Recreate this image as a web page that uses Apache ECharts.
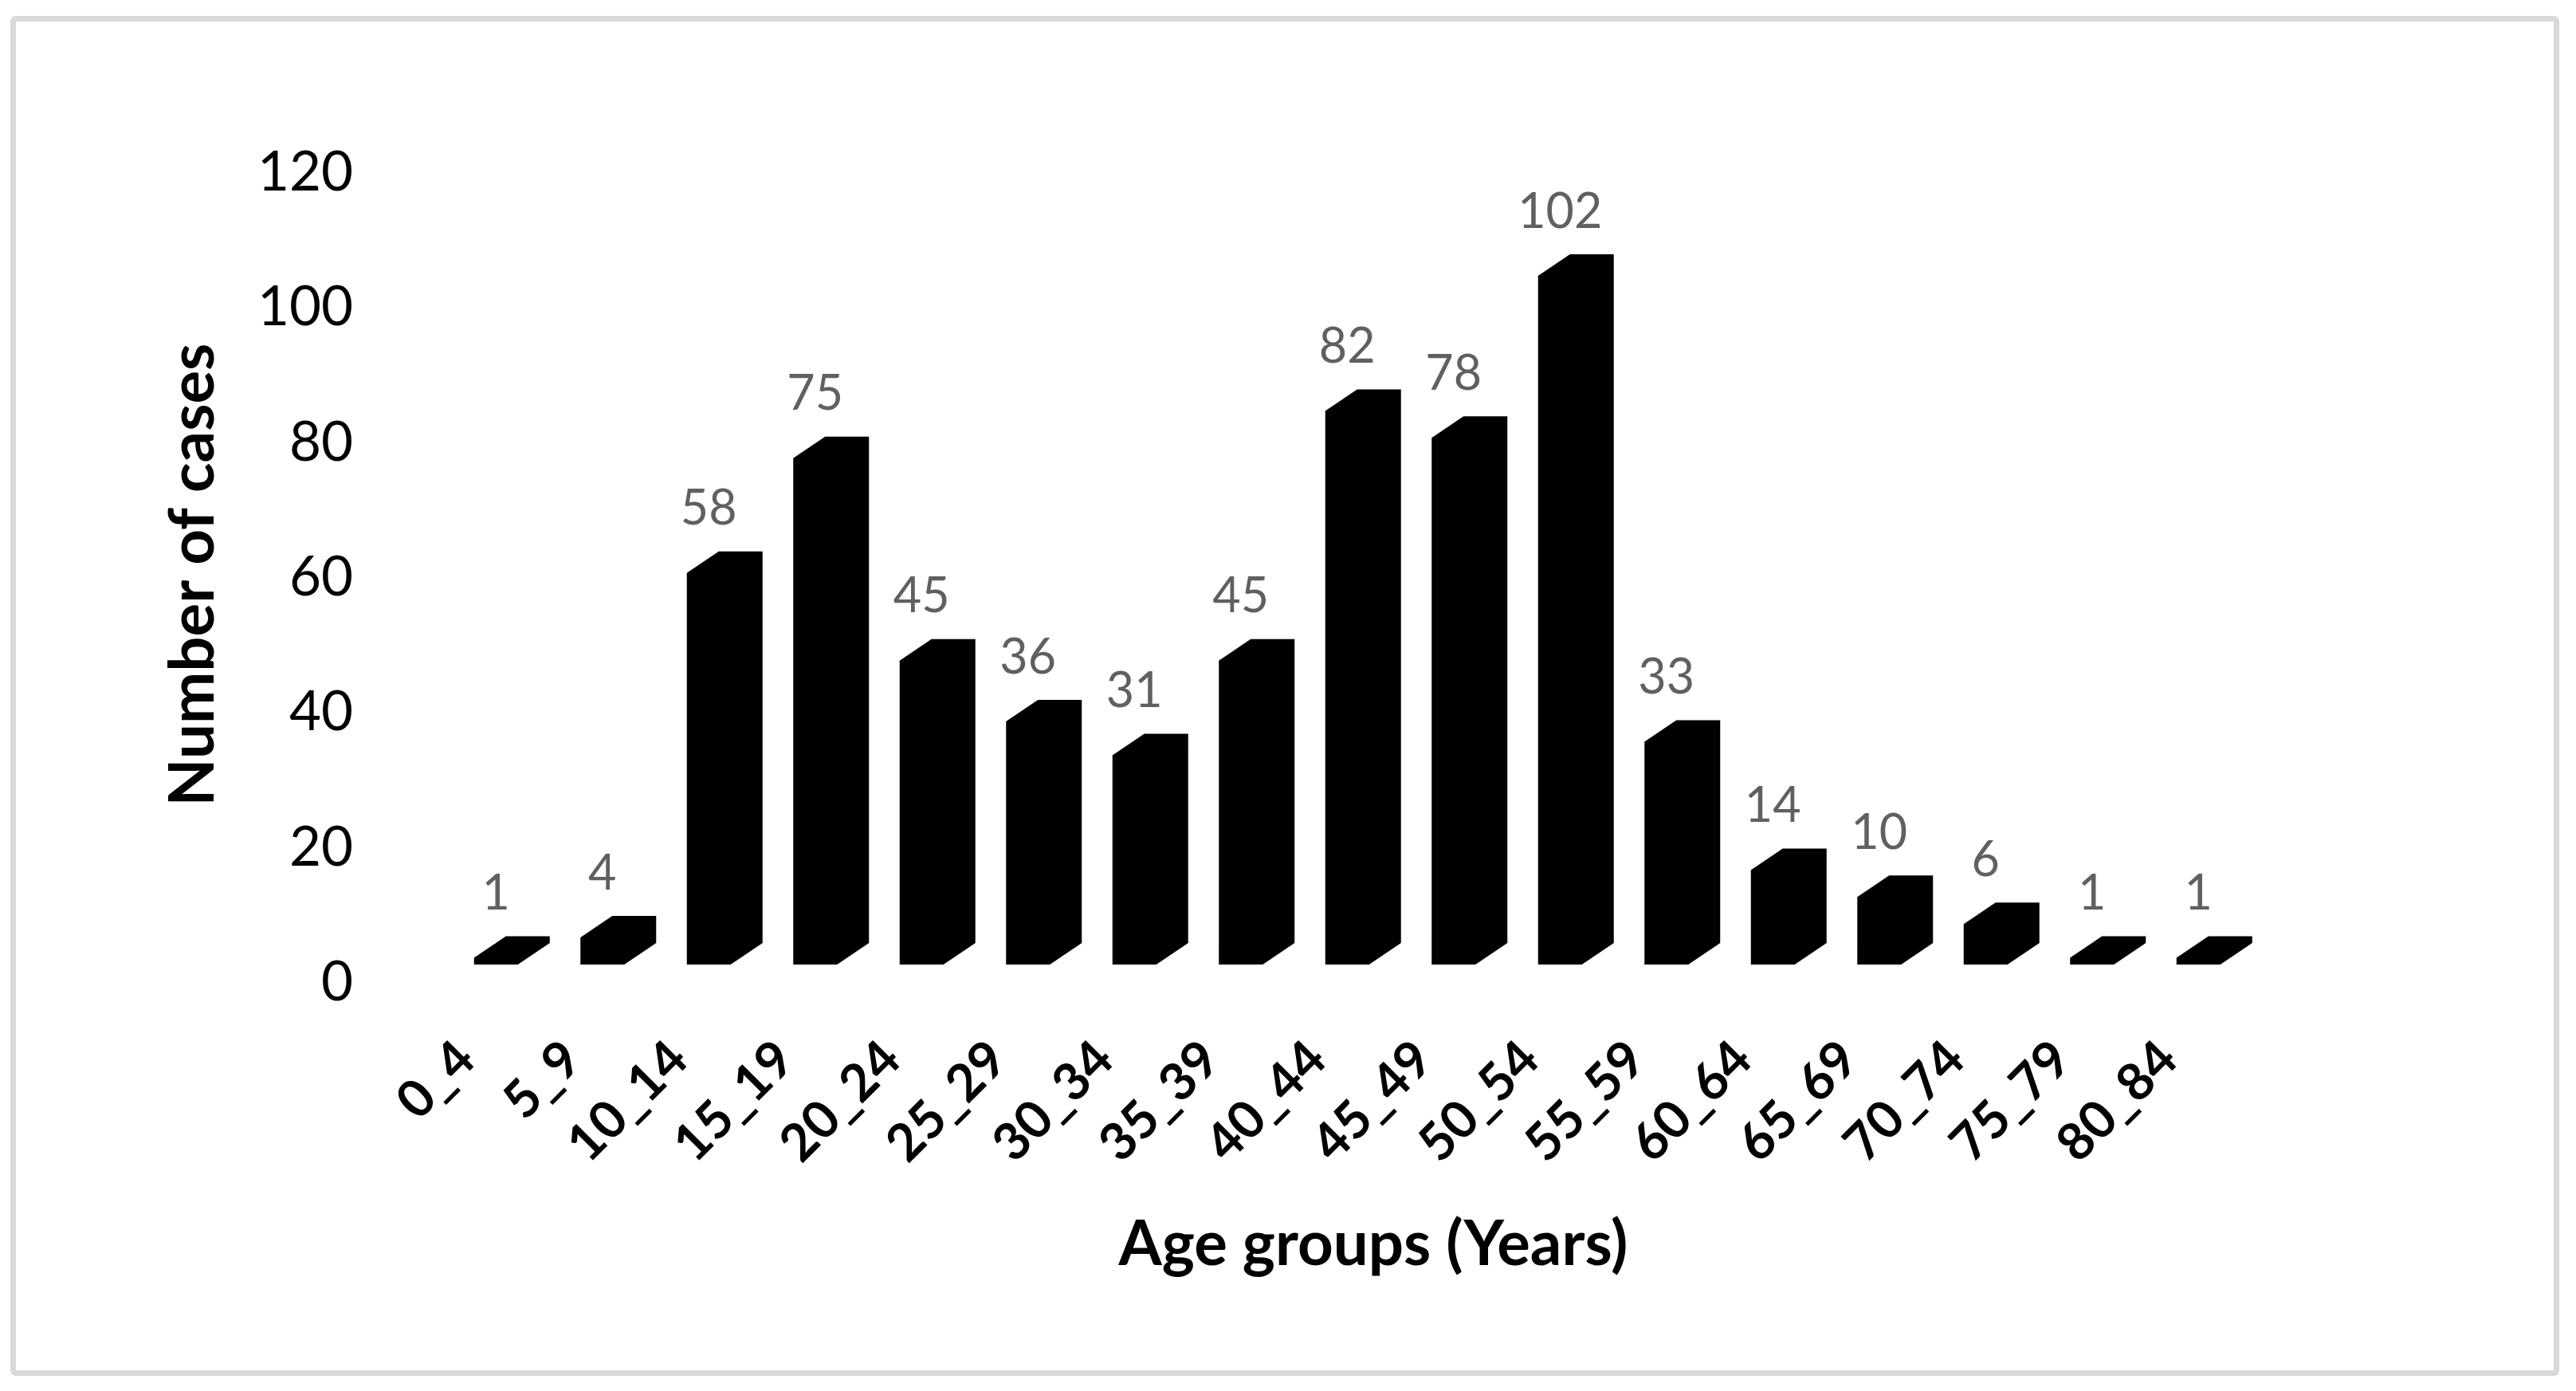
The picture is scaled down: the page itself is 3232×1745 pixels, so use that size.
<!DOCTYPE html>
<html>
<head>
<meta charset="utf-8">
<script src="https://cdn.jsdelivr.net/npm/echarts@6/dist/echarts.min.js"></script>
<style>
html,body{margin:0;padding:0;background:#fff;}
#chart{width:3232px;height:1745px;}
</style>
</head>
<body>
<div id="chart"></div>
<script>
const categories = ['0_4','5_9','10_14','15_19','20_24','25_29','30_34','35_39','40_44','45_49','50_54','55_59','60_64','65_69','70_74','75_79','80_84'];
const cases = [1,4,58,75,45,36,31,45,82,78,102,33,14,10,6,1,1];
const yTicks = [0,20,40,60,80,100,120];

const chart = echarts.init(document.getElementById('chart'));

// 3D column look (pixel styling)
const FRONT_SHIFT_X = 10, FRONT_SHIFT_Y = -23, FRONT_W = 55, DEPTH_X = 40, DEPTH_Y = -27;

function renderBar(params, api) {
  const top = api.coord([api.value(0), api.value(1)]);
  const base = api.coord([api.value(0), 0]);
  const fl = top[0] + FRONT_SHIFT_X;
  const fr = fl + FRONT_W;
  const ft = top[1] + FRONT_SHIFT_Y;
  const fb = base[1] + FRONT_SHIFT_Y;
  return {
    type: 'group',
    children: [
      {
        type: 'polygon',
        shape: { points: [[fl, ft], [fl + DEPTH_X, ft + DEPTH_Y], [fr + DEPTH_X, ft + DEPTH_Y], [fr + DEPTH_X, fb + DEPTH_Y], [fr, fb], [fl, fb]] },
        style: { fill: '#000000' }
      },
      {
        type: 'text',
        style: {
          text: String(api.value(1)),
          x: fl + FRONT_W / 2,
          y: ft - 80,
          align: 'center',
          verticalAlign: 'middle',
          fill: '#606060',
          font: '61px Lato'
        }
      }
    ]
  };
}

chart.setOption({
  backgroundColor: '#ffffff',
  animation: false,
  grid: { left: 518, top: 216.5, width: 2269.5, height: 1016.5, containLabel: false },
  xAxis: {
    type: 'category',
    data: categories,
    axisLine: { show: false },
    axisTick: { show: false },
    splitLine: { show: false },
    axisLabel: {
      interval: 0,
      rotate: 45,
      margin: 85,
      color: '#000000',
      fontFamily: 'Lato',
      fontWeight: 'bold',
      fontSize: 65
    }
  },
  yAxis: {
    type: 'value',
    min: yTicks[0],
    max: yTicks[yTicks.length - 1],
    interval: 20,
    axisLine: { show: false },
    axisTick: { show: false },
    splitLine: { show: false },
    axisLabel: {
      margin: 75,
      color: '#000000',
      fontFamily: 'Lato',
      fontSize: 69
    }
  },
  series: [{
    type: 'custom',
    renderItem: renderBar,
    data: categories.map((c, i) => [i, cases[i]]),
    encode: { x: 0, y: 1 },
    clip: false
  }],
  graphic: [
    {
      type: 'rect',
      shape: { x: 16.5, y: 23.5, width: 3191, height: 1699, r: 3 },
      style: { fill: 'none', stroke: '#d9d9d9', lineWidth: 7 },
      silent: true
    },
    {
      type: 'text',
      x: 1723, y: 1562,
      style: { text: 'Age groups (Years)', align: 'center', verticalAlign: 'middle', fill: '#000000', font: 'bold 78px Lato' }
    },
    {
      type: 'text',
      x: 243, y: 721,
      rotation: Math.PI / 2,
      style: { text: 'Number of cases', align: 'center', verticalAlign: 'middle', fill: '#000000', font: 'bold 78px Lato' }
    }
  ]
});
</script>
</body>
</html>
